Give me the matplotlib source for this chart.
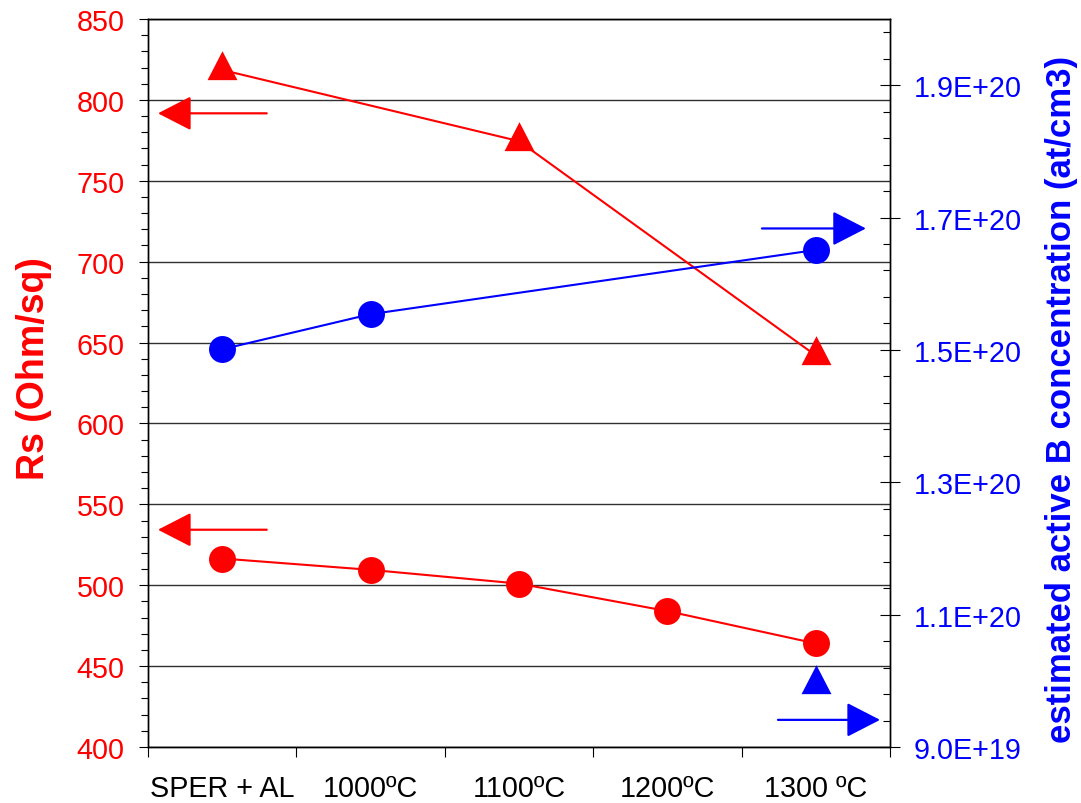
import numpy as np
import matplotlib
matplotlib.use("Agg")
import matplotlib.pyplot as plt
from matplotlib.ticker import MultipleLocator, FixedLocator, FuncFormatter

plt.rcParams['font.family'] = ['Liberation Sans', 'DejaVu Sans']

# categories along x (one slot each)
categories = ["SPER + AL", "1000ºC", "1100ºC", "1200ºC", "1300 ºC"]

# Rs, circles (left axis)
rs_circ_idx = [0, 1, 2, 3, 4]
rs_circ = [516.5, 509.5, 501, 484, 464]

# Rs, triangles (left axis)
rs_tri_idx = [0, 2, 4]
rs_tri = [818.5, 774.5, 642]

# active B concentration, circles (right axis)
b_circ_idx = [0, 1, 4]
b_circ = [1.501e20, 1.554e20, 1.651e20]

# active B concentration, triangle (right axis)
b_tri_idx = [4]
b_tri = [9.95e19]

right_ticks = [9.0e19, 1.1e20, 1.3e20, 1.5e20, 1.7e20, 1.9e20]

RED = "#FF0000"
BLUE = "#0000FF"
TICK_FS = 20.7

# triangle marker centred on its centroid
tri_marker = [(0, 2), (-1.55, -1), (1.55, -1), (0, 2)]

fig = plt.figure(figsize=(10.81, 8.04), dpi=100)
ax = fig.add_axes([148 / 1081, 56 / 804, 742 / 1081, 728 / 804])
ax2 = ax.twinx()

xc = lambda idx: [i + 0.5 for i in idx]

ax.plot(xc(rs_circ_idx), rs_circ, color=RED, lw=1.5, marker='o', ms=19.4, mew=0, zorder=3)
ax.plot(xc(rs_tri_idx), rs_tri, color=RED, lw=1.5, marker=tri_marker, ms=27.8, mew=0, zorder=3)
ax2.plot(xc(b_circ_idx), b_circ, color=BLUE, lw=1.5, marker='o', ms=19.4, mew=0, zorder=3)
ax2.plot(xc(b_tri_idx), b_tri, color=BLUE, lw=0, marker=tri_marker, ms=27.8, mew=0, zorder=3)

# axis pointers
arrow_kw = dict(arrowstyle='-|>,head_length=2.1,head_width=1.08', lw=1.6,
                shrinkA=0, shrinkB=0, mutation_scale=10)
for tail, tip in [((0.80, 791.7), (0.067, 791.7)), ((0.80, 534.3), (0.067, 534.3))]:
    ax.annotate('', xy=tip, xytext=tail,
                arrowprops=dict(color=RED, **arrow_kw))
for tail, tip in [((4.137, 1.6835e20), (4.838, 1.6835e20)), ((4.245, 9.41e19), (4.933, 9.41e19))]:
    ax2.annotate('', xy=tip, xytext=tail,
                 arrowprops=dict(color=BLUE, **arrow_kw))

# left axis
ax.set_xlim(0, 5)
ax.set_ylim(400, 850)
ax.yaxis.set_major_locator(MultipleLocator(50))
ax.yaxis.set_minor_locator(MultipleLocator(10))
ax.grid(axis='y', which='major', color='#303030', lw=1.0)
ax.set_axisbelow(True)
ax.tick_params(axis='y', which='major', direction='out', length=6.5, width=0.8,
               labelsize=TICK_FS, labelcolor=RED, pad=10.3)
ax.tick_params(axis='y', which='minor', direction='out', length=4.8, width=0.8)

# x axis: ticks on slot boundaries, labels in slot centres
ax.xaxis.set_major_locator(FixedLocator(range(len(categories) + 1)))
ax.xaxis.set_minor_locator(FixedLocator(xc(range(len(categories)))))
ax.set_xticklabels([], minor=False)
ax.set_xticklabels(categories, minor=True)
ax.tick_params(axis='x', which='major', direction='out', length=7.2, width=0.8)
ax.tick_params(axis='x', which='minor', length=0, labelsize=TICK_FS, pad=19.4)

# right axis
ax2.set_ylim(9.0e19, 2.0e20)
ax2.yaxis.set_major_locator(FixedLocator(right_ticks))
ax2.yaxis.set_minor_locator(FixedLocator(np.arange(9.0e19, 2.0e20 + 1e18, 4e18)))
ax2.yaxis.set_major_formatter(FuncFormatter(lambda v, p: "{:.1E}".format(v)))
ax2.tick_params(axis='y', which='major', direction='inout', length=14.4, width=0.8,
                labelsize=TICK_FS, labelcolor=BLUE, pad=10)
ax2.tick_params(axis='y', which='minor', direction='in', length=5, width=0.8)

for a in (ax, ax2):
    for s in a.spines.values():
        s.set_linewidth(1.0)
        s.set_color('black')

fig.text(34 / 1081, 1 - 369 / 804, "Rs (Ohm/sq)", rotation=90, ha='center', va='center',
         fontsize=27, fontweight='bold', color=RED)
fig.text(1062 / 1081, 1 - 399 / 804, "estimated active B concentration (at/cm3)", rotation=90,
         ha='center', va='center', fontsize=25, fontweight='bold', color=BLUE)

fig.savefig("out.png", dpi=100)
